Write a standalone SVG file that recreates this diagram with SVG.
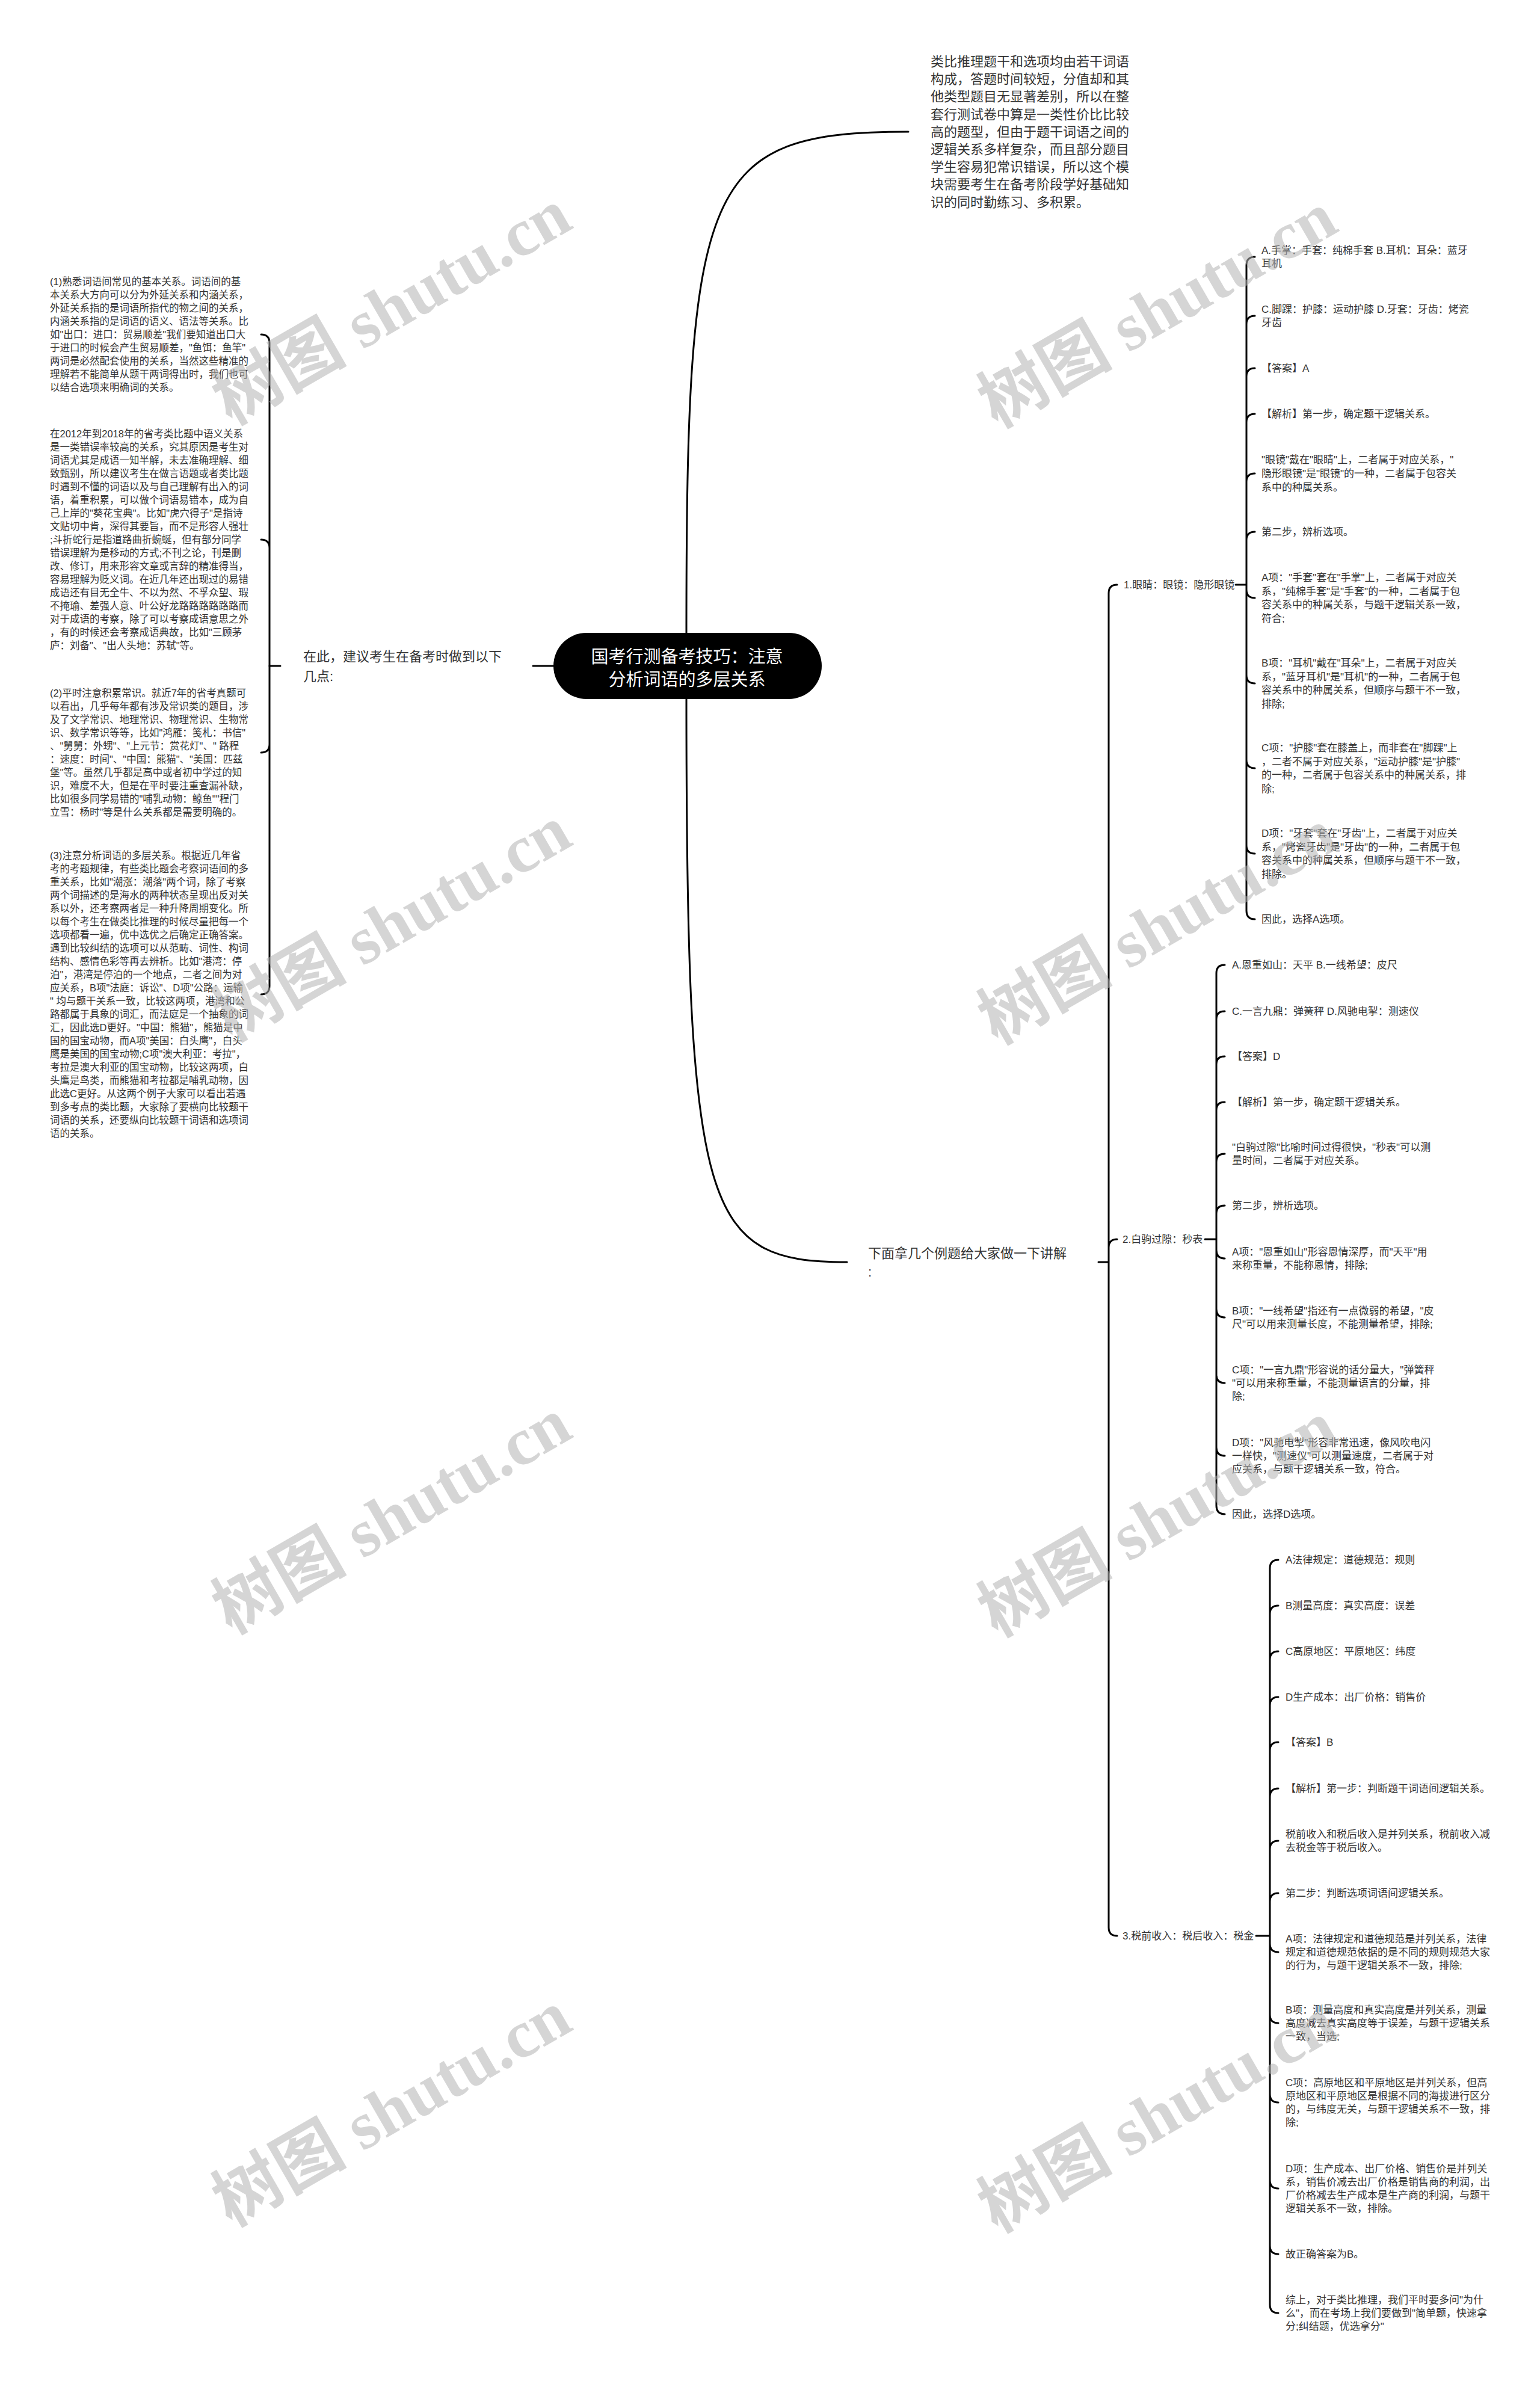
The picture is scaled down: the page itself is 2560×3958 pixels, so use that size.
<svg xmlns="http://www.w3.org/2000/svg" width="2560" height="3958" viewBox="0 0 2560 3958">
<style>
.t{font-family:'Liberation Sans','Noto Sans CJK SC',sans-serif;fill:#333;dominant-baseline:central}
.p{font-size:16.5px}
.s{font-size:17px}
.b{font-size:22px}
.ct{font-size:29px;fill:#fff;text-anchor:middle}
.c{stroke:#000;stroke-width:3;fill:none;stroke-linecap:round}
.wm{font-family:'Liberation Serif','Noto Sans CJK SC',serif;font-size:112px;font-weight:bold;fill:#b4b4b4;opacity:0.55;text-anchor:middle;dominant-baseline:central}
</style>
<rect width="2560" height="3958" fill="#fff"/>
<g id="connectors">
<path class="c" d="M1141 1052 C1141 300 1170 219 1510 219"/>
<path class="c" d="M1141 1162 C1141 2020 1170 2098 1408 2098"/>
<path class="c" d="M886 1107 L920 1107 M448 1107 L466 1107"/>
<path class="c" d="M448 1107 L448 570 Q448 556 434 556 M448 1107 L448 911 Q448 897 434 897 M448 1107 L448 1237 Q448 1251 434 1251 M448 1107 L448 1639 Q448 1653 434 1653"/>
<path class="c" d="M1826 2098 L1843 2098 M1843 2098 L1843 986 Q1843 972 1857 972 M1843 2098 L1843 2074 Q1843 2060 1857 2060 M1843 2098 L1843 3204 Q1843 3218 1857 3218"/>
<path class="c" d="M2054 972 L2072 972 M2072 972 L2072 441 Q2072 427 2086 427 M2072 972 L2072 539 Q2072 525 2086 525 M2072 972 L2072 626 Q2072 612 2086 612 M2072 972 L2072 702 Q2072 688 2086 688 M2072 972 L2072 801 Q2072 787 2086 787 M2072 972 L2072 898 Q2072 884 2086 884 M2072 972 L2072 980 Q2072 994 2086 994 M2072 972 L2072 1122 Q2072 1136 2086 1136 M2072 972 L2072 1263 Q2072 1277 2086 1277 M2072 972 L2072 1405 Q2072 1419 2086 1419 M2072 972 L2072 1514 Q2072 1528 2086 1528"/>
<path class="c" d="M2003 2060 L2022 2060 M2022 2060 L2022 1618 Q2022 1604 2036 1604 M2022 2060 L2022 1695 Q2022 1681 2036 1681 M2022 2060 L2022 1770 Q2022 1756 2036 1756 M2022 2060 L2022 1846 Q2022 1832 2036 1832 M2022 2060 L2022 1932 Q2022 1918 2036 1918 M2022 2060 L2022 2018 Q2022 2004 2036 2004 M2022 2060 L2022 2078 Q2022 2092 2036 2092 M2022 2060 L2022 2176 Q2022 2190 2036 2190 M2022 2060 L2022 2285 Q2022 2299 2036 2299 M2022 2060 L2022 2406 Q2022 2420 2036 2420 M2022 2060 L2022 2503 Q2022 2517 2036 2517"/>
<path class="c" d="M2088 3218 L2111 3218 M2111 3218 L2111 2607 Q2111 2593 2125 2593 M2111 3218 L2111 2683 Q2111 2669 2125 2669 M2111 3218 L2111 2759 Q2111 2745 2125 2745 M2111 3218 L2111 2835 Q2111 2821 2125 2821 M2111 3218 L2111 2910 Q2111 2896 2125 2896 M2111 3218 L2111 2987 Q2111 2973 2125 2973 M2111 3218 L2111 3074 Q2111 3060 2125 3060 M2111 3218 L2111 3161 Q2111 3147 2125 3147 M2111 3218 L2111 3231 Q2111 3245 2125 3245 M2111 3218 L2111 3349 Q2111 3363 2125 3363 M2111 3218 L2111 3481 Q2111 3495 2125 3495 M2111 3218 L2111 3624 Q2111 3638 2125 3638 M2111 3218 L2111 3733 Q2111 3747 2125 3747 M2111 3218 L2111 3831 Q2111 3845 2125 3845"/>
</g>
<g id="root">
<rect x="920" y="1052" width="446" height="110" rx="55" fill="#000"/>
<text class="t ct"><tspan x="1142" y="1092">国考行测备考技巧：注意</tspan><tspan x="1142" y="1130">分析词语的多层关系</tspan></text>
</g>
<g id="intro">
<text class="t b"><tspan x="1547" y="102">类比推理题干和选项均由若干词语</tspan><tspan x="1547" y="131">构成，答题时间较短，分值却和其</tspan><tspan x="1547" y="160">他类型题目无显著差别，所以在整</tspan><tspan x="1547" y="190">套行测试卷中算是一类性价比比较</tspan><tspan x="1547" y="219">高的题型，但由于题干词语之间的</tspan><tspan x="1547" y="248">逻辑关系多样复杂，而且部分题目</tspan><tspan x="1547" y="277">学生容易犯常识错误，所以这个模</tspan><tspan x="1547" y="306">块需要考生在备考阶段学好基础知</tspan><tspan x="1547" y="336">识的同时勤练习、多积累。</tspan></text>
</g>
<g id="advice">
<text class="t b"><tspan x="504" y="1091">在此，建议考生在备考时做到以下</tspan><tspan x="504" y="1124">几点:</tspan></text>
</g>
<g id="tip1">
<text class="t p"><tspan x="83" y="468">(1)熟悉词语间常见的基本关系。词语间的基</tspan><tspan x="83" y="490">本关系大方向可以分为外延关系和内涵关系，</tspan><tspan x="83" y="512">外延关系指的是词语所指代的物之间的关系，</tspan><tspan x="83" y="534">内涵关系指的是词语的语义、语法等关系。比</tspan><tspan x="83" y="556">如"出口：进口：贸易顺差"我们要知道出口大</tspan><tspan x="83" y="578">于进口的时候会产生贸易顺差，"鱼饵：鱼竿"</tspan><tspan x="83" y="600">两词是必然配套使用的关系，当然这些精准的</tspan><tspan x="83" y="622">理解若不能简单从题干两词得出时，我们也可</tspan><tspan x="83" y="644">以结合选项来明确词的关系。</tspan></text>
</g>
<g id="tip-idiom">
<text class="t p"><tspan x="83" y="721">在2012年到2018年的省考类比题中语义关系</tspan><tspan x="83" y="743">是一类错误率较高的关系，究其原因是考生对</tspan><tspan x="83" y="765">词语尤其是成语一知半解，未去准确理解、细</tspan><tspan x="83" y="787">致甄别，所以建议考生在做言语题或者类比题</tspan><tspan x="83" y="809">时遇到不懂的词语以及与自己理解有出入的词</tspan><tspan x="83" y="831">语，着重积累，可以做个词语易错本，成为自</tspan><tspan x="83" y="853">己上岸的"葵花宝典"。比如"虎穴得子"是指诗</tspan><tspan x="83" y="875">文贴切中肯，深得其要旨，而不是形容人强壮</tspan><tspan x="83" y="897">;斗折蛇行是指道路曲折蜿蜒，但有部分同学</tspan><tspan x="83" y="919">错误理解为是移动的方式;不刊之论，刊是删</tspan><tspan x="83" y="941">改、修订，用来形容文章或言辞的精准得当，</tspan><tspan x="83" y="963">容易理解为贬义词。在近几年还出现过的易错</tspan><tspan x="83" y="985">成语还有目无全牛、不以为然、不孚众望、瑕</tspan><tspan x="83" y="1007">不掩瑜、差强人意、叶公好龙路路路路路路而</tspan><tspan x="83" y="1029">对于成语的考察，除了可以考察成语意思之外</tspan><tspan x="83" y="1051">，有的时候还会考察成语典故，比如"三顾茅</tspan><tspan x="83" y="1073">庐：刘备"、"出人头地：苏轼"等。</tspan></text>
</g>
<g id="tip2">
<text class="t p"><tspan x="83" y="1152">(2)平时注意积累常识。就近7年的省考真题可</tspan><tspan x="83" y="1174">以看出，几乎每年都有涉及常识类的题目，涉</tspan><tspan x="83" y="1196">及了文学常识、地理常识、物理常识、生物常</tspan><tspan x="83" y="1218">识、数学常识等等，比如"鸿雁：笺札：书信"</tspan><tspan x="83" y="1240">、"舅舅：外甥"、"上元节：赏花灯"、" 路程</tspan><tspan x="83" y="1262">：速度：时间"、"中国：熊猫"、"美国：匹兹</tspan><tspan x="83" y="1284">堡"等。虽然几乎都是高中或者初中学过的知</tspan><tspan x="83" y="1306">识，难度不大，但是在平时要注重查漏补缺，</tspan><tspan x="83" y="1328">比如很多同学易错的"哺乳动物：鲸鱼""程门</tspan><tspan x="83" y="1350">立雪：杨时"等是什么关系都是需要明确的。</tspan></text>
</g>
<g id="tip3">
<text class="t p"><tspan x="83" y="1422">(3)注意分析词语的多层关系。根据近几年省</tspan><tspan x="83" y="1444">考的考题规律，有些类比题会考察词语间的多</tspan><tspan x="83" y="1466">重关系，比如"潮涨：潮落"两个词，除了考察</tspan><tspan x="83" y="1488">两个词描述的是海水的两种状态呈现出反对关</tspan><tspan x="83" y="1510">系以外，还考察两者是一种升降周期变化。所</tspan><tspan x="83" y="1532">以每个考生在做类比推理的时候尽量把每一个</tspan><tspan x="83" y="1554">选项都看一遍，优中选优之后确定正确答案。</tspan><tspan x="83" y="1576">遇到比较纠结的选项可以从范畴、词性、构词</tspan><tspan x="83" y="1598">结构、感情色彩等再去辨析。比如"港湾：停</tspan><tspan x="83" y="1620">泊"，港湾是停泊的一个地点，二者之间为对</tspan><tspan x="83" y="1642">应关系，B项"法庭：诉讼"、D项"公路：运输</tspan><tspan x="83" y="1664">" 均与题干关系一致，比较这两项，港湾和公</tspan><tspan x="83" y="1686">路都属于具象的词汇，而法庭是一个抽象的词</tspan><tspan x="83" y="1708">汇，因此选D更好。"中国：熊猫"，熊猫是中</tspan><tspan x="83" y="1730">国的国宝动物，而A项"美国：白头鹰"，白头</tspan><tspan x="83" y="1752">鹰是美国的国宝动物;C项"澳大利亚：考拉"，</tspan><tspan x="83" y="1774">考拉是澳大利亚的国宝动物，比较这两项，白</tspan><tspan x="83" y="1796">头鹰是鸟类，而熊猫和考拉都是哺乳动物，因</tspan><tspan x="83" y="1818">此选C更好。从这两个例子大家可以看出若遇</tspan><tspan x="83" y="1840">到多考点的类比题，大家除了要横向比较题干</tspan><tspan x="83" y="1862">词语的关系，还要纵向比较题干词语和选项词</tspan><tspan x="83" y="1884">语的关系。</tspan></text>
</g>
<g id="examples">
<text class="t b"><tspan x="1443" y="2083">下面拿几个例题给大家做一下讲解</tspan><tspan x="1443" y="2114">:</tspan></text>
</g>
<g id="ex1">
<text class="t s" x="1868" y="972">1.眼睛：眼镜：隐形眼镜</text>
</g>
<g id="ex1-items">
<text class="t s"><tspan x="2097" y="416">A.手掌：手套：纯棉手套 B.耳机：耳朵：蓝牙</tspan><tspan x="2097" y="438">耳机</tspan></text>
<text class="t s"><tspan x="2097" y="514">C.脚踝：护膝：运动护膝 D.牙套：牙齿：烤瓷</tspan><tspan x="2097" y="536">牙齿</tspan></text>
<text class="t s" x="2097" y="612">【答案】A</text>
<text class="t s" x="2097" y="688">【解析】第一步，确定题干逻辑关系。</text>
<text class="t s"><tspan x="2097" y="764">"眼镜"戴在"眼睛"上，二者属于对应关系，"</tspan><tspan x="2097" y="787">隐形眼镜"是"眼镜"的一种，二者属于包容关</tspan><tspan x="2097" y="810">系中的种属关系。</tspan></text>
<text class="t s" x="2097" y="884">第二步，辨析选项。</text>
<text class="t s"><tspan x="2097" y="960">A项："手套"套在"手掌"上，二者属于对应关</tspan><tspan x="2097" y="983">系，"纯棉手套"是"手套"的一种，二者属于包</tspan><tspan x="2097" y="1005">容关系中的种属关系，与题干逻辑关系一致，</tspan><tspan x="2097" y="1028">符合;</tspan></text>
<text class="t s"><tspan x="2097" y="1102">B项："耳机"戴在"耳朵"上，二者属于对应关</tspan><tspan x="2097" y="1125">系，"蓝牙耳机"是"耳机"的一种，二者属于包</tspan><tspan x="2097" y="1147">容关系中的种属关系，但顺序与题干不一致，</tspan><tspan x="2097" y="1170">排除;</tspan></text>
<text class="t s"><tspan x="2097" y="1243">C项："护膝"套在膝盖上，而非套在"脚踝"上</tspan><tspan x="2097" y="1266">，二者不属于对应关系，"运动护膝"是"护膝"</tspan><tspan x="2097" y="1288">的一种，二者属于包容关系中的种属关系，排</tspan><tspan x="2097" y="1311">除;</tspan></text>
<text class="t s"><tspan x="2097" y="1385">D项："牙套"套在"牙齿"上，二者属于对应关</tspan><tspan x="2097" y="1408">系，"烤瓷牙齿"是"牙齿"的一种，二者属于包</tspan><tspan x="2097" y="1430">容关系中的种属关系，但顺序与题干不一致，</tspan><tspan x="2097" y="1453">排除。</tspan></text>
<text class="t s" x="2097" y="1528">因此，选择A选项。</text>
</g>
<g id="ex2">
<text class="t s" x="1866" y="2060">2.白驹过隙：秒表</text>
</g>
<g id="ex2-items">
<text class="t s" x="2048" y="1604">A.恩重如山：天平 B.一线希望：皮尺</text>
<text class="t s" x="2048" y="1681">C.一言九鼎：弹簧秤 D.风驰电掣：测速仪</text>
<text class="t s" x="2048" y="1756">【答案】D</text>
<text class="t s" x="2048" y="1832">【解析】第一步，确定题干逻辑关系。</text>
<text class="t s"><tspan x="2048" y="1907">"白驹过隙"比喻时间过得很快，"秒表"可以测</tspan><tspan x="2048" y="1929">量时间，二者属于对应关系。</tspan></text>
<text class="t s" x="2048" y="2004">第二步，辨析选项。</text>
<text class="t s"><tspan x="2048" y="2081">A项："恩重如山"形容恩情深厚，而"天平"用</tspan><tspan x="2048" y="2103">来称重量，不能称恩情，排除;</tspan></text>
<text class="t s"><tspan x="2048" y="2179">B项："一线希望"指还有一点微弱的希望，"皮</tspan><tspan x="2048" y="2201">尺"可以用来测量长度，不能测量希望，排除;</tspan></text>
<text class="t s"><tspan x="2048" y="2277">C项："一言九鼎"形容说的话分量大，"弹簧秤</tspan><tspan x="2048" y="2299">"可以用来称重量，不能测量语言的分量，排</tspan><tspan x="2048" y="2321">除;</tspan></text>
<text class="t s"><tspan x="2048" y="2398">D项："风驰电掣"形容非常迅速，像风吹电闪</tspan><tspan x="2048" y="2420">一样快，"测速仪"可以测量速度，二者属于对</tspan><tspan x="2048" y="2442">应关系，与题干逻辑关系一致，符合。</tspan></text>
<text class="t s" x="2048" y="2517">因此，选择D选项。</text>
</g>
<g id="ex3">
<text class="t s" x="1866" y="3218">3.税前收入：税后收入：税金</text>
</g>
<g id="ex3-items">
<text class="t s" x="2137" y="2593">A法律规定：道德规范：规则</text>
<text class="t s" x="2137" y="2669">B测量高度：真实高度：误差</text>
<text class="t s" x="2137" y="2745">C高原地区：平原地区：纬度</text>
<text class="t s" x="2137" y="2821">D生产成本：出厂价格：销售价</text>
<text class="t s" x="2137" y="2896">【答案】B</text>
<text class="t s" x="2137" y="2973">【解析】第一步：判断题干词语间逻辑关系。</text>
<text class="t s"><tspan x="2137" y="3049">税前收入和税后收入是并列关系，税前收入减</tspan><tspan x="2137" y="3071">去税金等于税后收入。</tspan></text>
<text class="t s" x="2137" y="3147">第二步：判断选项词语间逻辑关系。</text>
<text class="t s"><tspan x="2137" y="3223">A项：法律规定和道德规范是并列关系，法律</tspan><tspan x="2137" y="3245">规定和道德规范依据的是不同的规则规范大家</tspan><tspan x="2137" y="3267">的行为，与题干逻辑关系不一致，排除;</tspan></text>
<text class="t s"><tspan x="2137" y="3341">B项：测量高度和真实高度是并列关系，测量</tspan><tspan x="2137" y="3363">高度减去真实高度等于误差，与题干逻辑关系</tspan><tspan x="2137" y="3385">一致，当选;</tspan></text>
<text class="t s"><tspan x="2137" y="3462">C项：高原地区和平原地区是并列关系，但高</tspan><tspan x="2137" y="3484">原地区和平原地区是根据不同的海拔进行区分</tspan><tspan x="2137" y="3506">的，与纬度无关，与题干逻辑关系不一致，排</tspan><tspan x="2137" y="3528">除;</tspan></text>
<text class="t s"><tspan x="2137" y="3605">D项：生产成本、出厂价格、销售价是并列关</tspan><tspan x="2137" y="3627">系，销售价减去出厂价格是销售商的利润，出</tspan><tspan x="2137" y="3649">厂价格减去生产成本是生产商的利润，与题干</tspan><tspan x="2137" y="3671">逻辑关系不一致，排除。</tspan></text>
<text class="t s" x="2137" y="3747">故正确答案为B。</text>
<text class="t s"><tspan x="2137" y="3823">综上，对于类比推理，我们平时要多问"为什</tspan><tspan x="2137" y="3845">么"，而在考场上我们要做到"简单题，快速拿</tspan><tspan x="2137" y="3867">分;纠结题，优选拿分"</tspan></text>
</g>
<g id="watermarks">
<text class="wm" transform="translate(651 510) rotate(-30)">树图 shutu.cn</text>
<text class="wm" transform="translate(1924 515) rotate(-30)">树图 shutu.cn</text>
<text class="wm" transform="translate(651 1535) rotate(-30)">树图 shutu.cn</text>
<text class="wm" transform="translate(1924 1540) rotate(-30)">树图 shutu.cn</text>
<text class="wm" transform="translate(651 2520) rotate(-30)">树图 shutu.cn</text>
<text class="wm" transform="translate(1924 2525) rotate(-30)">树图 shutu.cn</text>
<text class="wm" transform="translate(651 3505) rotate(-30)">树图 shutu.cn</text>
<text class="wm" transform="translate(1924 3515) rotate(-30)">树图 shutu.cn</text>
</g>
</svg>
